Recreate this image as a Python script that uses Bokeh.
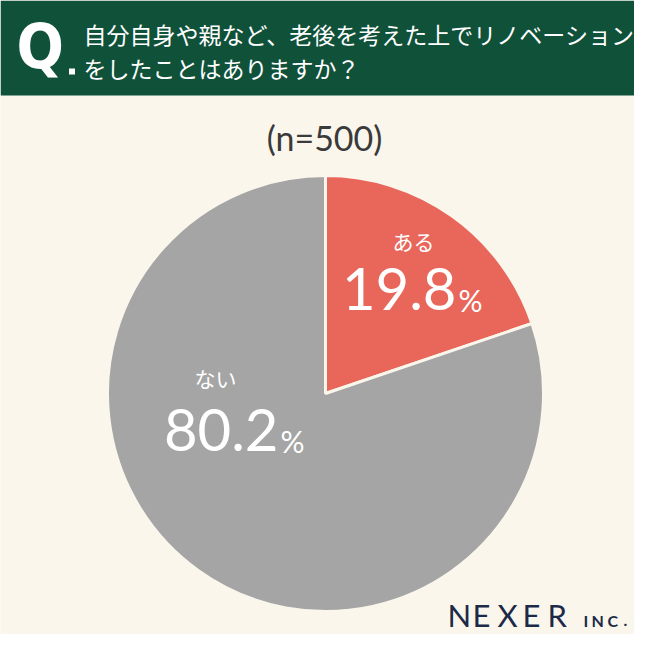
import math
from bokeh.plotting import figure
from bokeh.models import Range1d, ColumnDataSource
from bokeh.core.properties import value
from bokeh.embed import file_html
from bokeh.resources import INLINE

# ---- data ----
categories = ["ある", "ない"]
shares = [19.8, 80.2]
colors = ["#e8665a", "#a5a5a5"]
title_lines = ["自分自身や親など、老後を考えた上でリノベーション", "をしたことはありますか？"]
sample_label = "(n=500)"

W = 634
# data coordinates == reference page pixels
p = figure(width=W, height=W, x_range=Range1d(0, 634), y_range=Range1d(16, 650),
           output_backend="svg", toolbar_location=None, min_border=0,
           background_fill_color="#faf6ec", border_fill_color="#faf6ec")
p.axis.visible = False
p.grid.visible = False
p.outline_line_color = None

def Y(v):
    return 650 - v

# header band
p.quad(left=[0], right=[650], top=[Y(0)], bottom=[Y(95)], fill_color="#10513a", line_color=None)

# Q.
p.text(x=[16], y=[Y(46)], text=["Q"], text_font=value("DejaVu Sans Condensed, Roboto"),
       text_font_style="bold", text_font_size="62px", text_color="white", text_baseline="middle")
p.rect(x=[71.5], y=[Y(71)], width=6, height=6, fill_color="white", line_color=None)

# question text
p.text(x=[83, 83], y=[Y(33), Y(67)], text=title_lines, text_font=value("Noto Sans CJK JP"),
       text_font_size="23px", text_color="white", text_baseline="middle")

# sample size
p.text(x=[324], y=[Y(137)], text=[sample_label], text_font=value("Lato"),
       text_font_size="34px", text_color="#3a3a3a", text_align="center",
       text_baseline="middle")

# pie
cx, cy, R = 325, Y(393), 218
tot = sum(shares)
starts, ends = [], []
a = math.pi / 2
for v in shares:
    starts.append(a)
    a = a - 2 * math.pi * v / tot
    ends.append(a)
src = ColumnDataSource(dict(cat=categories, val=shares, start=starts, end=ends, color=colors))
p.wedge(x=cx, y=cy, radius=R, start_angle="start", end_angle="end", direction="clock",
        fill_color="color", line_color="#faf6ec", line_width=3, source=src)

# labels: (category label x, y, number right edge, number baseline)
label_pos = [(413, 240, 456, 311), (215, 377, 278, 452)]
for cat, v, (lx, ly, nx, nb) in zip(categories, shares, label_pos):
    p.text(x=[lx], y=[Y(ly)], text=[cat], text_font=value("Noto Sans CJK JP"),
           text_font_size="21px", text_color="white", text_align="center",
           text_baseline="middle")
    num = f"{v:.1f}"
    p.text(x=[nx], y=[Y(nb - 23)], text=[num], text_font=value("Lato"),
           text_font_size="58px", text_color="white", text_align="right",
           text_baseline="middle")
    p.text(x=[nx + 2], y=[Y(nb - 12)], text=["%"], text_font=value("Lato"),
           text_font_size="30px", text_color="white", text_align="left",
           text_baseline="middle")

# NEXER INC. logo
letters = list("NEXER")
xs = [447 + i * 25 for i in range(len(letters))]
p.text(x=xs, y=[Y(614)] * len(letters), text=letters, text_font=value("Lato"),
       text_font_size="31px", text_color="#1b2a48", text_baseline="middle")
inc = list("INC.")
ixs = [583, 591, 607, 623]
p.text(x=ixs, y=[Y(620)] * len(inc), text=inc, text_font=value("Lato"), text_font_style="bold",
       text_font_size="16px", text_color="#1b2a48", text_baseline="middle")

open("out.html", "w").write(file_html(p, INLINE))
